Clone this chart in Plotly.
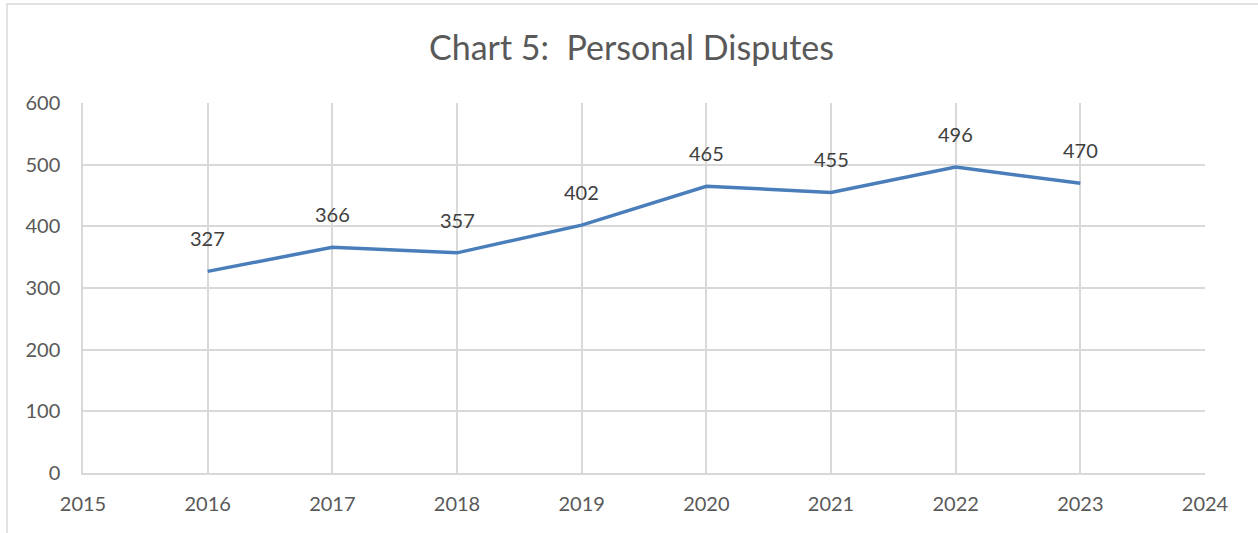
"""Chart 5: Personal Disputes, line chart with data labels (Excel look)."""

import plotly.graph_objects as go

years = [2016, 2017, 2018, 2019, 2020, 2021, 2022, 2023]
disputes = [327, 366, 357, 402, 465, 455, 496, 470]

x_ticks = list(range(2015, 2025))
y_ticks = [0, 100, 200, 300, 400, 500, 600]

FONT = "Lato"
TEXT_COLOR = "#595959"
GRID = "#d9d9d9"

fig = go.Figure()

fig.add_trace(go.Scatter(
    x=years,
    y=disputes,
    mode="lines",
    line=dict(color="#4a7ebb", width=3.5),
    hoverinfo="x+y",
    showlegend=False,
))

for yr, val in zip(years, disputes):
    fig.add_annotation(
        x=yr, y=val, text=str(val), showarrow=False,
        yshift=33, font=dict(family=FONT, size=20, color="#404040"),
    )

# chart border
fig.add_shape(
    type="rect", xref="paper", yref="paper",
    x0=-0.0677, x1=1.2, y0=-0.4, y1=1.2676,
    line=dict(color=GRID, width=1.5), layer="below",
)

fig.update_layout(
    width=1258,
    height=533,
    margin=dict(l=83, r=53, t=103, b=60),
    paper_bgcolor="white",
    plot_bgcolor="white",
    title=dict(
        text="Chart 5:  Personal Disputes",
        x=0.502, xanchor="center",
        y=0.91, yanchor="middle",
        font=dict(family=FONT, size=34, color=TEXT_COLOR),
    ),
    font=dict(family=FONT, size=20, color=TEXT_COLOR),
)

fig.update_xaxes(
    range=[2015, 2024],
    tickvals=x_ticks,
    showgrid=True, gridcolor=GRID, gridwidth=1.5,
    showline=True, linecolor=GRID, linewidth=1.5,
    zeroline=False,
    ticks="", ticklabelstandoff=12,
)
fig.update_yaxes(
    range=[0, 600],
    tickvals=y_ticks,
    showgrid=True, gridcolor=GRID, gridwidth=1.5,
    showline=True, linecolor=GRID, linewidth=1.5,
    zeroline=False,
    ticks="", ticklabelstandoff=17,
)

fig.write_html(
    "out.html",
    config={"displayModeBar": False},
    post_script="document.body.style.margin='0';",
)
